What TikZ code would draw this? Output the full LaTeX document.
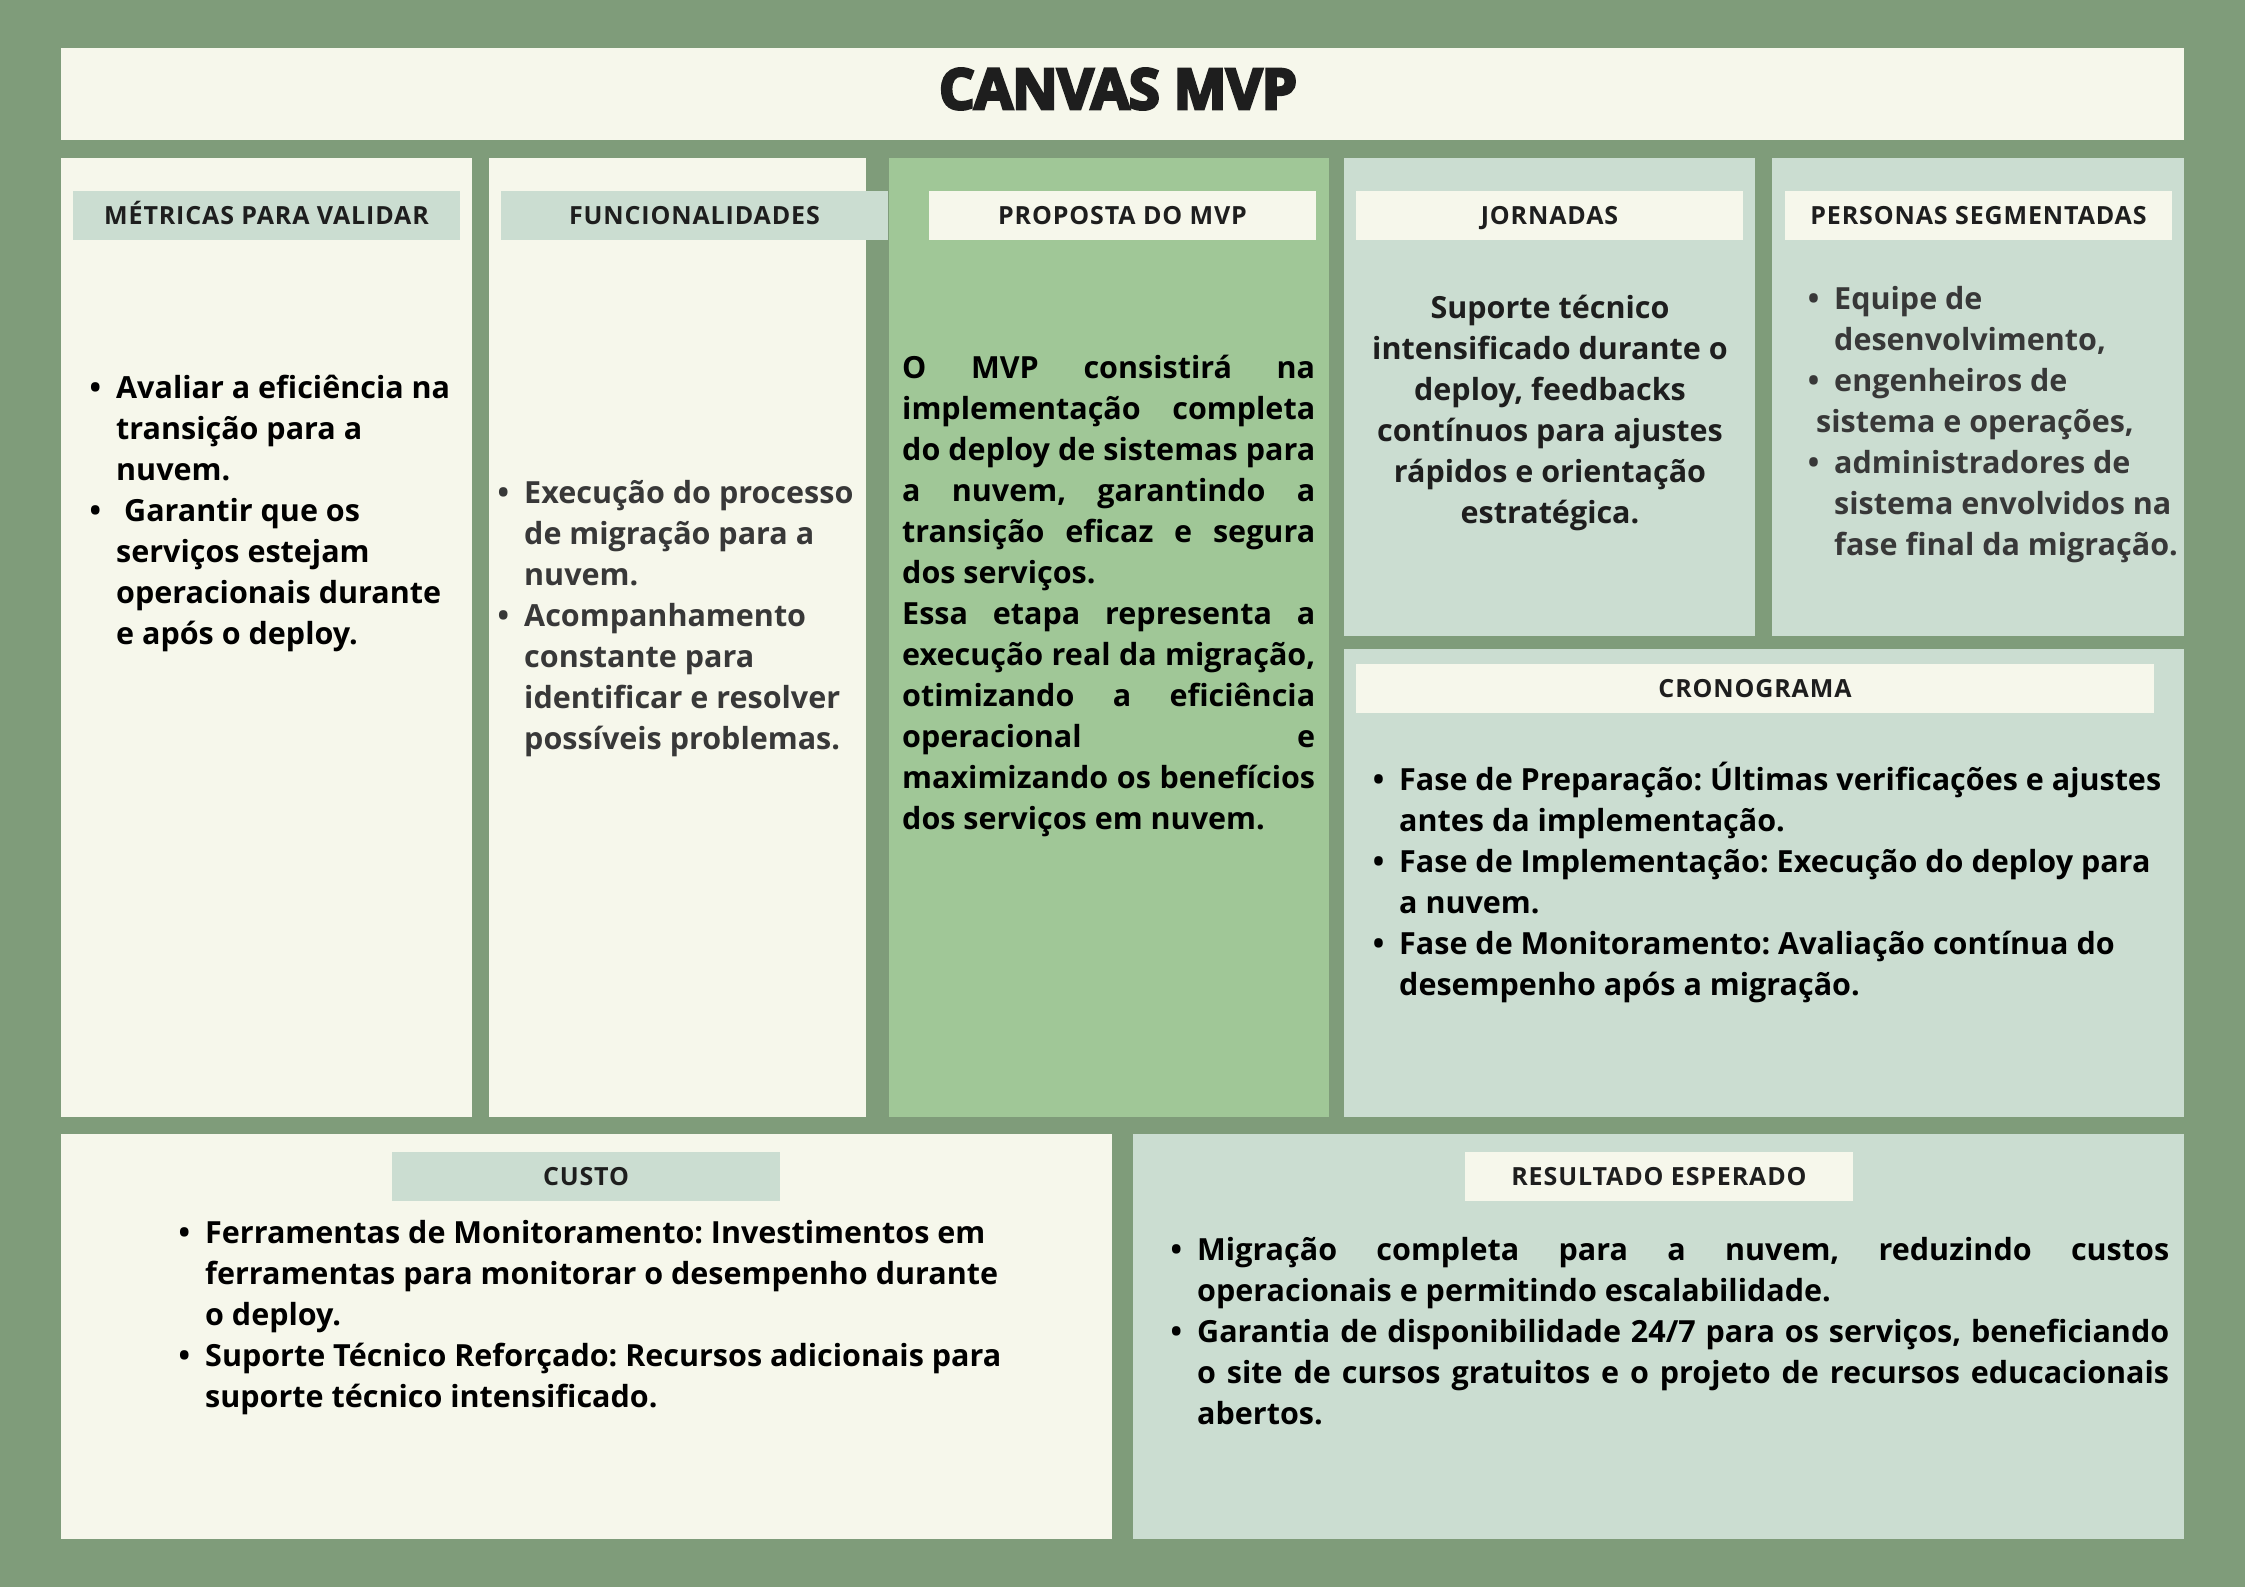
\documentclass[tikz,border=0pt]{standalone}
\usepackage{fontspec}
\setmainfont{Open Sans}
\newfontfamily\spacedfont{Open Sans}[LetterSpace=3.5]
\newfontfamily\titlefont{Open Sans}[FakeBold=5,LetterSpace=-1]
\usepackage{xcolor}
\usepackage{enumitem}
\setlist[itemize]{nosep,leftmargin=24pt,labelsep=15pt,label=\textbullet}
\frenchspacing
\definecolor{mygreen}{HTML}{7F9C7A}
\definecolor{mycream}{HTML}{F6F7EB}
\definecolor{mysage}{HTML}{CBDDD1}
\definecolor{myleaf}{HTML}{A0C797}
\definecolor{myink}{HTML}{1E1E1E}
\definecolor{mygray}{HTML}{383838}
\newcommand\normspace{\spaceskip=\fontdimen2\font\xspaceskip=0pt\relax}
\newcommand\jline[2]{\makebox[#1][s]{\spaceskip=0pt\relax #2}}
\tikzstyle{head} = [inner sep=0pt,minimum height=49pt,text height=18pt,text depth=0pt,text=myink,font=\spacedfont\bfseries\fontsize{25}{30}\selectfont]
\tikzstyle{body} = [inner sep=0pt,anchor=north west,align=left,text=myink,font=\bfseries\fontsize{30.5}{41}\selectfont]

\begin{document}
\begin{tikzpicture}[x=1pt,y=-1pt]
            % basics
            \fill [mygreen] (0,0) rectangle (2245,1587);
            \useasboundingbox (0,0) rectangle (2245,1587);
            \fill [mycream] (61,48) rectangle (2184,140);
            \node [text=myink,inner sep=0pt,font=\titlefont\bfseries\fontsize{56}{56}\selectfont] (title) at (1118,89) {CANVAS MVP};
            % top row
            \fill [mycream] (61,158) rectangle (472,1117);
            \fill [mycream] (489,158) rectangle (866,1117);
            \fill [myleaf] (889,158) rectangle (1329,1117);
            \fill [mysage] (1344,158) rectangle (1755,636);
            \fill [mysage] (1772,158) rectangle (2184,636);
            \fill [mysage] (1344,649) rectangle (2184,1117);
            % bottom row
            \fill [mycream] (61,1134) rectangle (1112,1539);
            \fill [mysage] (1133,1134) rectangle (2184,1539);
            % headings
            \node [head,fill=mysage,minimum width=387pt] (metricas) at (266.5,215.5) {\normspace MÉTRICAS PARA VALIDAR};
            \node [head,fill=mysage,minimum width=387pt] (funcoes) at (694.5,215.5) {FUNCIONALIDADES};
            \node [head,fill=mycream,minimum width=387pt] (proposta) at (1122.5,215.5) {\normspace PROPOSTA DO MVP};
            \node [head,fill=mycream,minimum width=387pt] (jornadas) at (1549.5,215.5) {JORNADAS};
            \node [head,fill=mycream,minimum width=387pt] (personas) at (1978.5,215.5) {\normspace PERSONAS SEGMENTADAS};
            \node [head,fill=mycream,minimum width=798pt] (crono) at (1755,688.5) {CRONOGRAMA};
            \node [head,fill=mysage,minimum width=388pt] (custo) at (586,1176.5) {CUSTO};
            \node [head,fill=mycream,minimum width=388pt] (resultado) at (1659,1176.5) {\normspace RESULTADO ESPERADO};
            % texts
            \node [body,text width=380pt,text=black] (metricastxt) at (92,357) {\normspace\begin{itemize}
                \item \strut Avaliar a eficiência na\newline transição para a\newline nuvem.
                \item \hspace*{8pt}Garantir que os\newline serviços estejam\newline operacionais durante\newline e após o deploy.
            \end{itemize}};
            \node [body,text width=380pt,text=mygray] (funcoestxt) at (500,462) {\normspace\begin{itemize}
                \item \strut Execução do processo\newline de migração para a\newline nuvem.
                \item Acompanhamento\newline constante para\newline identificar e resolver\newline possíveis problemas.
            \end{itemize}};
            \node [body,text width=413pt,text=black] (propostatxt) at (902,350) {\normspace\strut\jline{413pt}{O MVP consistirá na}\\
                \jline{413pt}{implementação completa}\\
                \jline{413pt}{do deploy de sistemas para}\\
                \jline{413pt}{a nuvem, garantindo a}\\
                \jline{413pt}{transição eficaz e segura}\\
                dos serviços.\\
                \jline{413pt}{Essa etapa representa a}\\
                \jline{413pt}{execução real da migração,}\\
                \jline{413pt}{otimizando a eficiência}\\
                \jline{413pt}{operacional e}\\
                \jline{413pt}{maximizando os benefícios}\\
                dos serviços em nuvem.};
            \node [body,anchor=north,text width=420pt,align=center] (jornadastxt) at (1550,290) {\normspace\strut Suporte técnico\\ intensificado durante o\\ deploy, feedbacks\\ contínuos para ajustes\\ rápidos e orientação\\ estratégica.};
            \node [body,text width=400pt,text=mygray] (personastxt) at (1806,268) {\normspace\begin{itemize}[leftmargin=28pt]
                \item \strut Equipe de\newline desenvolvimento,
                \item engenheiros de\newline \hspace*{-18pt}sistema e operações,
                \item administradores de\newline sistema envolvidos na\newline fase final da migração.
            \end{itemize}};
            \node [body,text width=860pt,text=black] (cronotxt) at (1375,749) {\normspace\begin{itemize}
                \item \strut Fase de Preparação: Últimas verificações e ajustes\newline antes da implementação.
                \item Fase de Implementação: Execução do deploy para\newline a nuvem.
                \item Fase de Monitoramento: Avaliação contínua do\newline desempenho após a migração.
            \end{itemize}};
            \node [body,text width=900pt,text=black] (custotxt) at (184,1202) {\normspace\begin{itemize}[leftmargin=21pt]
                \item \strut Ferramentas de Monitoramento: Investimentos em\newline ferramentas para monitorar o desempenho durante\newline o deploy.
                \item Suporte Técnico Reforçado: Recursos adicionais para\newline suporte técnico intensificado.
            \end{itemize}};
            \node [body,text width=996pt,text=black] (resultadotxt) at (1173,1219) {\normspace\begin{itemize}
                \item \strut\jline{972pt}{Migração completa para a nuvem, reduzindo custos}\newline operacionais e permitindo escalabilidade.
                \item \jline{972pt}{Garantia de disponibilidade 24/7 para os serviços, beneficiando}\newline \jline{972pt}{o site de cursos gratuitos e o projeto de recursos educacionais}\newline abertos.
            \end{itemize}};
\end{tikzpicture}
\end{document}
